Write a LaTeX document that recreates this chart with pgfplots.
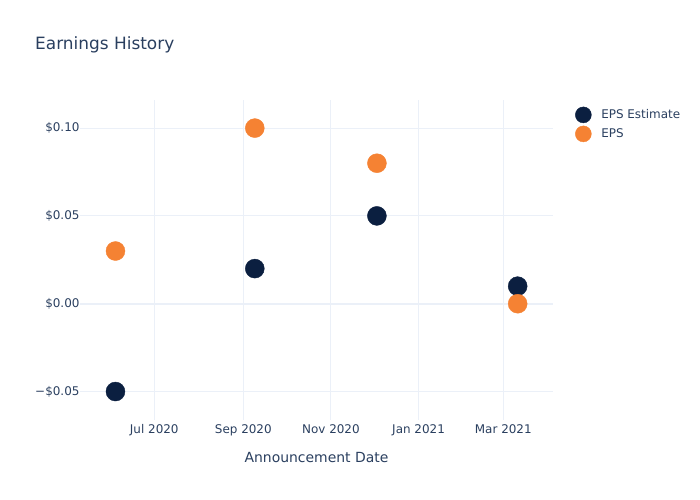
\documentclass[border=0pt]{standalone}
\usepackage{pgfplots}
\pgfplotsset{compat=1.18}
\usepackage{fontspec}
\setmainfont{DejaVu Sans}
\definecolor{txt}{HTML}{2A3F5F}
\definecolor{gridc}{HTML}{EBF0F8}
\definecolor{navy}{HTML}{0B1F40}
\definecolor{orng}{HTML}{F58233}
\begin{document}
\begin{tikzpicture}[x=1bp,y=1bp]
\begin{axis}[name=ax, scale only axis,
  width=473bp, height=320bp,
  xmin=-51.7, xmax=277.6, ymin=-0.0662, ymax=0.116,
  axis line style={draw=none}, tick style={draw=none},
  xtick={0,62,123,184,243},
  xticklabels={Jul 2020,Sep 2020,Nov 2020,Jan 2021,Mar 2021},
  ytick={-0.05,0.05,0.1},
  yticklabels={−\$0.05,\$0.05,\$0.10},
  extra y ticks={0}, extra y tick labels={\$0.00},
  extra y tick style={grid=major, major grid style={gridc, line width=2bp}},
  grid=major, major grid style={gridc, line width=1bp},
  ticklabel style={font=\fontsize{12}{14}\selectfont, text=txt},
  xticklabel style={yshift=-1bp},
  yticklabel style={xshift=3bp},
  xlabel={Announcement Date},
  xlabel style={font=\fontsize{14}{16}\selectfont, text=txt, yshift=-9bp},
  legend style={at={(1.0445,0.979)}, anchor=north west, draw=none, fill=none,
    font=\fontsize{12}{14}\selectfont, text=txt, inner sep=0pt,
    row sep=3bp},
  legend cell align=left,
  legend image code/.code={\draw[#1, mark size=8bp] plot coordinates {(9.1bp,0cm)}; \path[draw=none,fill=none] (0,0) rectangle (25bp,0.1bp);},
  clip=false,
]
\addplot[only marks, mark=*, mark size=9.5bp, color=navy] coordinates {
  (-27,-0.05) (70,0.02) (155,0.05) (253,0.01)};
\addlegendentry{EPS Estimate}
\addplot[only marks, mark=*, mark size=9.5bp, color=orng] coordinates {
  (-27,0.03) (70,0.10) (155,0.08) (253,0.00)};
\addlegendentry{EPS}
\end{axis}
\path[use as bounding box] (ax.south west) ++(-80,-80) rectangle ++(700,500);
\node[anchor=base west, font=\fontsize{17}{20}\selectfont, text=txt, inner sep=0] at ([shift={(-45,370)}]ax.south west) {Earnings History};
\end{tikzpicture}
\end{document}
